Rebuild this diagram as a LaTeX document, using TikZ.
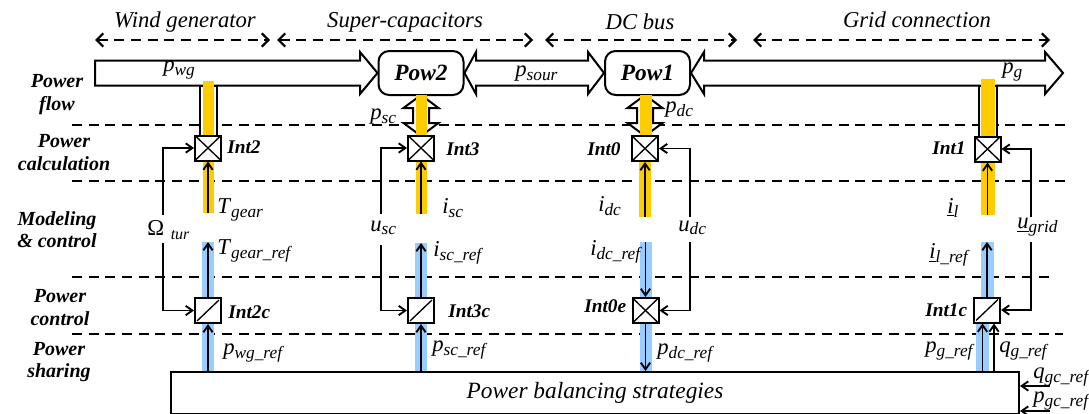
\documentclass[tikz,border=0pt]{standalone}
\usepackage{fontspec}
\setmainfont{Liberation Serif}
\usetikzlibrary{arrows.meta,calc}
\definecolor{barY}{HTML}{FFCC00}
\definecolor{barB}{HTML}{99CCFF}
\newcommand\vsub[2]{\textit{#1}\raisebox{-2.5pt}{\fontsize{13}{13}\selectfont\textit{#2}}}
\begin{document}
\begin{tikzpicture}[x=0.75pt,y=-0.75pt,
  lab/.style={inner sep=0pt, anchor=west, font=\fontsize{17}{20}\selectfont},
  intlab/.style={inner sep=0pt, anchor=west, font=\bfseries\itshape\fontsize{14.5}{17}\selectfont},
  side/.style={align=center, inner sep=0pt, font=\bfseries\itshape\fontsize{15}{17}\selectfont},
  ttl/.style={inner sep=0pt, font=\itshape\fontsize{17}{20}\selectfont},
  sepline/.style={line width=1.8pt, dash pattern=on 7.5pt off 5pt},
  span/.style={line width=1.8pt, dash pattern=on 7.5pt off 5pt, {Straight Barb[length=5pt,width=10pt,line width=1.6pt]}-{Straight Barb[length=5pt,width=10pt,line width=1.6pt]}},
  conn/.style={line width=1.4pt, -{Straight Barb[length=5pt,width=7pt]}},
  flow/.style={draw, line width=1.5pt, fill=white, line join=miter},
  powbox/.style={draw, line width=1.5pt, rounded corners=8pt, fill=white, minimum width=63.75pt, minimum height=33pt, inner sep=0pt, font=\bfseries\itshape\fontsize{17.5}{20}\selectfont},
  xbox/.style={draw, fill=white, line width=1.5pt, minimum width=19.5pt, minimum height=18.75pt, inner sep=0pt,
    path picture={\draw[line width=1pt] (path picture bounding box.south west) -- (path picture bounding box.north east)
      (path picture bounding box.north west) -- (path picture bounding box.south east);}},
  sbox/.style={draw, fill=white, line width=1.5pt, minimum width=19.5pt, minimum height=18.75pt, inner sep=0pt,
    path picture={\draw[line width=1pt] ($(path picture bounding box.south west)+(2,-2)$) -- ($(path picture bounding box.north east)+(-2,2)$);}}
]
\useasboundingbox (0,0) rectangle (1089,414);

% titles
\node[ttl] (tw) at (185,22) {Wind generator};
\node[ttl] (ts) at (405,22) {Super-capacitors};
\node[ttl] (td) at (640,22) {DC bus};
\node[ttl] (tg) at (917,20) {Grid connection};
\coordinate (s1a) at (95,40);  \coordinate (s1b) at (270,40);
\coordinate (s2a) at (277,40); \coordinate (s2b) at (533,40);
\coordinate (s3a) at (545,40); \coordinate (s3b) at (737,40);
\coordinate (s4a) at (753,40); \coordinate (s4b) at (1050,40);
\draw[span] (s1a) -- (s1b);
\draw[span] (s2a) -- (s2b);
\draw[span] (s3a) -- (s3b);
\draw[span] (s4a) -- (s4b);

% level separators
\draw[sepline] (72,125) -- (1066,125);
\draw[sepline] (72,181) -- (1066,181);
\draw[sepline] (72,277) -- (1054,277);
\draw[sepline] (72,334) -- (1063,334);

% side labels
\node[side] (lf) at (57,94.5) {Power\\flow};
\node[side] (lc) at (64,152.5) {Power\\calculation};
\node[side] (lm) at (57,229.5) {Modeling\\\& control};
\node[side] (lp) at (60,307.5) {Power\\control};
\node[side] (ls) at (59,362) {Power\\sharing};

% Pow nodes
\node[powbox] (pow2) at (421,73) {Pow2};
\node[powbox] (pow1) at (647.5,73) {Pow1};

% power flow arrows
\draw[flow] (95,60.5) -- (360,60.5) -- (360,52) -- (pow2.west) -- (360,94) -- (360,85.5) -- (95,85.5) -- cycle;
\draw[flow] (pow2.east) -- (476,52) -- (476,60.5) -- (588,60.5) -- (588,52) -- (pow1.west) -- (588,94) -- (588,85.5) -- (476,85.5) -- (476,94) -- cycle;
\draw[flow] (pow1.east) -- (704,52) -- (704,60.5) -- (1045,60.5) -- (1045,52) -- (1063,73) -- (1045,94) -- (1045,85.5) -- (704,85.5) -- (704,94) -- cycle;

% vertical double arrows
\draw[flow] (421,95) -- (438.5,108) -- (429,108) -- (429,123) -- (438.5,123) -- (421,136) -- (403.5,123) -- (413,123) -- (413,108) -- (403.5,108) -- cycle;
\fill[barY] (415.5,95) rectangle (426.5,136);
\draw[flow] (645,95) -- (662.5,108) -- (653,108) -- (653,123) -- (662.5,123) -- (645,136) -- (627.5,123) -- (637,123) -- (637,108) -- (627.5,108) -- cycle;
\fill[barY] (639.5,95) rectangle (651.5,136);

% wind and grid vertical bars from flow
\draw[line width=1.5pt, fill=white] (199.5,86) rectangle (216.5,136);
\fill[barY] (202.5,81) rectangle (213.5,136);
\draw[line width=1.5pt, fill=white] (978.5,86) rectangle (996.5,137);
\fill[barY] (980.5,79) rectangle (994.5,137);

% lower bars
\fill[barY] (202.5,158) rectangle (213.5,213);
\fill[barY] (415.5,158) rectangle (426.5,214);
\fill[barY] (639,158) rectangle (651,217);
\fill[barY] (980.5,158) rectangle (994.5,215);
\fill[barB] (202,242) rectangle (214,371);
\fill[barB] (415,243) rectangle (427,371);
\fill[barB] (640,242) rectangle (651.5,371);
\fill[barB] (981,242) rectangle (994,300);
\fill[barB] (976,320) rectangle (989,371);

% strategies box
\node[draw, line width=1.5pt, fill=white, anchor=north west, minimum width=636pt, minimum height=31.5pt, inner sep=0pt,
  font=\itshape\fontsize{17.5}{20}\selectfont] (strat) at (170,371) {Power balancing strategies};

% interface boxes
\node[xbox] (int2) at (208,148) {};
\node[xbox] (int3) at (421,148) {};
\node[xbox] (int0) at (645,148.5) {};
\node[xbox] (int1) at (987.5,149) {};
\node[sbox] (int2c) at (208,310.5) {};
\node[sbox] (int3c) at (421,310.5) {};
\node[xbox] (int0e) at (645.5,310.5) {};
\node[sbox] (int1c) at (987,310) {};

% vertical arrows
\coordinate (w1) at (208,213);   \draw[conn] (w1) -- (int2.south);
\coordinate (w2) at (208,242);   \draw[conn] (int2c.north) -- (w2);
\draw[conn] (int2c.south |- strat.north) -- (int2c.south);
\coordinate (c1) at (421,214);   \draw[conn] (c1) -- (int3.south);
\coordinate (c2) at (421,243);   \draw[conn] (int3c.north) -- (c2);
\draw[conn] (int3c.south |- strat.north) -- (int3c.south);
\coordinate (d1) at (645,217);   \draw[conn] (d1) -- (int0.south);
\coordinate (d2) at (645.5,242); \draw[conn] (d2) -- (int0e.north);
\draw[conn] (int0e.south) -- (int0e.south |- strat.north);
\coordinate (g1) at (987.5,215); \draw[conn] (g1) -- (int1.south);
\coordinate (g2) at (987,242);   \draw[conn] (int1c.north) -- (g2);
\coordinate (g3) at (982.5,371); \draw[conn] (g3) -- (g3 |- int1c.south);
\coordinate (g4) at (994,371);   \draw[conn] (g4) -- (g4 |- int1c.south);

% feedback lines
\coordinate (om1) at (163,215); \draw[conn] (om1) |- (int2.west);
\coordinate (om2) at (163,243); \draw[conn] (om2) |- (int2c.west);
\coordinate (us1) at (381,214); \draw[conn] (us1) |- (int3.west);
\coordinate (us2) at (381,245); \draw[conn] (us2) |- (int3c.west);
\coordinate (ud1) at (690,217); \draw[conn] (ud1) |- (int0.east);
\coordinate (ud2) at (690,242); \draw[conn] (ud2) |- (int0e.east);
\coordinate (ug1) at (1031,217); \draw[conn] (ug1) |- (int1.east);
\coordinate (ug2) at (1031,242); \draw[conn] (ug2) |- (int1c.east);
\coordinate (qgc) at (1050,386); \draw[conn] (qgc) -- (qgc -| strat.east);
\coordinate (pgc) at (1050,411); \draw[conn] (pgc) -- (pgc -| strat.east);

% interface labels
\node[intlab] (l2) at (227,147) {Int2};
\node[intlab] (l3) at (446,149) {Int3};
\node[intlab] (l0) at (587,149) {Int0};
\node[intlab] (l1) at (932,148) {Int1};
\node[intlab] (l2c) at (228,312) {Int2c};
\node[intlab] (l3c) at (448,311) {Int3c};
\node[intlab] (l0e) at (584,306) {Int0e};
\node[intlab] (l1c) at (925,310) {Int1c};

% variable labels
\node[lab] (vpwg) at (163,70) {\vsub{p}{wg}};
\node[lab] (vpsour) at (515,74) {\vsub{p}{sour}};
\node[lab] (vpg) at (1002,72) {\vsub{p}{g}};
\node[lab] (vpsc) at (370,117) {\vsub{p}{sc}};
\node[lab] (vpdc) at (665,110) {\vsub{p}{dc}};
\node[lab] (vtg) at (217,210) {\vsub{T}{gear}};
\node[lab] (vtgr) at (217,251) {\vsub{T}{gear\_ref}};
\node[lab] (vom) at (147,230) {Ω\hspace{5pt}\raisebox{-2.5pt}{\fontsize{12}{12}\selectfont\textit{tur}}};
\node[lab] (vpwgr) at (223,353) {\vsub{p}{wg\_ref}};
\node[lab] (visc) at (442,208) {\vsub{i}{sc}};
\node[lab] (vusc) at (370,228) {\vsub{u}{sc}};
\node[lab] (viscr) at (433,253) {\vsub{i}{sc\_ref}};
\node[lab] (vpscr) at (432,350) {\vsub{p}{sc\_ref}};
\node[lab] (vidc) at (598,206) {\vsub{i}{dc}};
\node[lab] (vudc) at (678,228) {\vsub{u}{dc}};
\node[lab] (vidcr) at (590,252) {\vsub{i}{dc\_ref}};
\node[lab] (vpdcr) at (657,353) {\vsub{p}{dc\_ref}};
\node[lab] (vil) at (947,208) {\underline{\textit{i}}\raisebox{-2.5pt}{\fontsize{13}{13}\selectfont\textit{l}}};
\node[lab] (vug) at (1017,227) {\underline{\textit{u}}\raisebox{-2.5pt}{\fontsize{13}{13}\selectfont\textit{grid}}};
\node[lab] (vilr) at (929,255) {\underline{\textit{i}}\raisebox{-2.5pt}{\fontsize{13}{13}\selectfont\textit{l\_ref}}};
\node[lab] (vpgr) at (925,351) {\vsub{p}{g\_ref}};
\node[lab] (vqgr) at (999,351) {\vsub{q}{g\_ref}};
\node[lab] (vqgc) at (1033,377) {\vsub{q}{gc\_ref}};
\node[lab] (vpgc) at (1033,401) {\vsub{p}{gc\_ref}};
\end{tikzpicture}
\end{document}
